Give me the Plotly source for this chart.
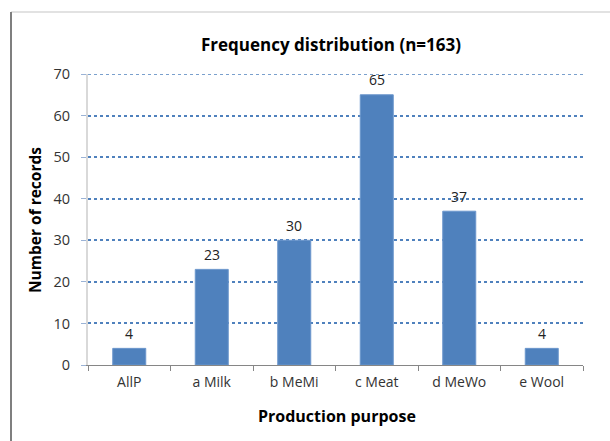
import plotly.graph_objects as go

categories = ["AllP", "a Milk", "b MeMi", "c Meat", "d MeWo", "e Wool"]
counts = [4, 23, 30, 65, 37, 4]
title_text = "Frequency distribution (n=163)"
x_title = "Production purpose"
y_title = "Number of records"

W, H = 610, 441
L, R, T, B = 88, 27, 74, 76
pw, ph = W - L - R, H - T - B

def px_x(x):
    return (x - L) / pw

def px_y(y):
    return (H - B - y) / ph

FONT = "Open Sans"
BLUE = "#4f81bd"

fig = go.Figure(
    go.Bar(
        x=categories,
        y=counts,
        width=0.4,
        marker=dict(color=BLUE, line=dict(color="#6b96cc", width=1)),
        cliponaxis=False,
    )
)

label_annots = [
    dict(
        x=c, y=v, xref="x", yref="y",
        text=str(v), showarrow=False,
        xanchor="center", yanchor="middle", yshift=15,
        font=dict(family=FONT, size=14, color="#222222"),
    )
    for c, v in zip(categories, counts)
]

fig.update_layout(
    width=W,
    height=H,
    margin=dict(l=L, r=R, t=T, b=B),
    paper_bgcolor="white",
    plot_bgcolor="white",
    showlegend=False,
    font=dict(family=FONT, size=14, color="#333333"),
    title=dict(
        text="<b>" + title_text + "</b>",
        x=px_x(331),
        xref="paper",
        xanchor="center",
        y=1 - 45 / H,
        yanchor="middle",
        font=dict(family=FONT, size=17, color="#000000"),
    ),
    xaxis=dict(
        type="category",
        showline=True,
        linecolor="#868686",
        linewidth=1,
        ticks="outside",
        tickson="boundaries",
        ticklen=5,
        tickcolor="#868686",
        showgrid=False,
        ticklabelstandoff=4,
        tickfont=dict(family=FONT, size=14, color="#333333"),
    ),
    yaxis=dict(
        range=[0, 70],
        dtick=10,
        showline=True,
        linecolor="#d9d9d9",
        linewidth=2,
        ticks="outside",
        ticklen=5,
        tickcolor="#9bb3d6",
        showgrid=True,
        gridcolor=BLUE,
        griddash="dot",
        gridwidth=1.5,
        zeroline=False,
        ticklabelstandoff=8,
        tickfont=dict(family=FONT, size=14.5, color="#333333"),
    ),
    annotations=label_annots + [
        dict(
            text="<b>" + x_title + "</b>",
            xref="paper", yref="paper",
            x=px_x(337), y=px_y(416),
            xanchor="center", yanchor="middle",
            showarrow=False,
            font=dict(family=FONT, size=16, color="#000000"),
        ),
        dict(
            text="<b>" + y_title + "</b>",
            xref="paper", yref="paper",
            x=px_x(35), y=px_y(220),
            xanchor="center", yanchor="middle",
            textangle=-90,
            showarrow=False,
            font=dict(family=FONT, size=15.5, color="#000000"),
        ),
    ],
    shapes=[
        dict(type="line", xref="paper", yref="y",
             x0=0, x1=1, y0=70, y1=70,
             line=dict(color=BLUE, width=1.5, dash="dot")),
        dict(type="line", xref="paper", yref="paper",
             x0=px_x(11), x1=px_x(615), y0=px_y(12), y1=px_y(12),
             line=dict(color="#d9d9d9", width=1.5)),
        dict(type="line", xref="paper", yref="paper",
             x0=px_x(11), x1=px_x(11), y0=px_y(12), y1=px_y(450),
             line=dict(color="#7f7f7f", width=2)),
    ],
)

fig.write_html("out.html")
